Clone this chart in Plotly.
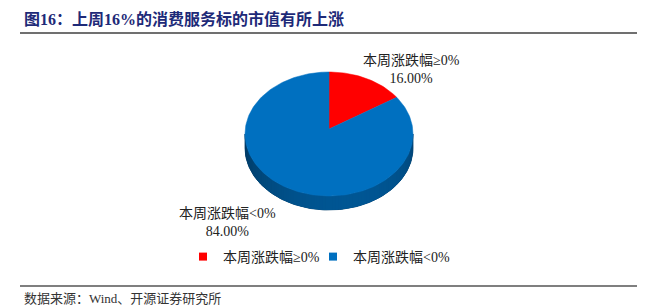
import math
import plotly.graph_objects as go

# ---- data ----
categories = ["本周涨跌幅≥0%", "本周涨跌幅&lt;0%"]
values = [16.0, 84.0]
colors = ["#FF0000", "#0070C0"]

title_text = "图16：上周16%的消费服务标的市值有所上涨"
source_text = "数据来源：Wind、开源证券研究所"

# ---- canvas / layout constants (pixels) ----
W, H = 654, 308
CX, CY = 329, 129          # projected centre of the pie
RX = 84                    # half width of the top face
R_TOP, R_BOTTOM = 57, 67   # far / near half heights (perspective)
DEPTH = 14                 # thickness of the disc
FONT = "Liberation Serif, Times New Roman, Noto Sans CJK SC, serif"
LEGEND_X = [183, 313]      # left edge of each legend entry
LEGEND_Y = 257

# perspective parameters derived from the constants above
K = (R_BOTTOM + R_TOP) / (R_BOTTOM - R_TOP)
SY = R_TOP * (K + 1)
SX = RX / (1 / math.sqrt(K * K - 1))


def project(a_deg, drop=0.0):
    """Clockwise angle from 12 o'clock on the disc -> pixel position."""
    a = math.radians(a_deg)
    X, Z = math.sin(a), math.cos(a)
    u = X / (K + Z)
    v = Z / (K + Z)
    return CX + SX * u, CY - SY * v + drop


def arc(a0, a1, drop=0.0, n=None):
    n = n or max(4, int(abs(a1 - a0) / 1.5))
    pts = [project(a0 + (a1 - a0) * i / n, drop) for i in range(n + 1)]
    return [p[0] for p in pts], [p[1] for p in pts]


def shade(hex_color, f):
    h = hex_color.lstrip("#")
    r, g, b = (int(h[i:i + 2], 16) for i in (0, 2, 4))
    return "rgb({},{},{})".format(int(r * f), int(g * f), int(b * f))


def side_factor(a):
    return 0.55 + 0.22 * math.cos(math.radians(a - 165))


total = sum(values)
bounds = []
acc = 0.0
for v in values:
    start = acc / total * 360
    acc += v
    bounds.append((start, acc / total * 360))


def slice_at(a):
    return next(j for j, (s, e) in enumerate(bounds) if s <= a <= e)


fig = go.Figure()

# ---- side wall (only the near half is visible) ----
tangent = math.degrees(math.acos(-1 / K))
vis0, vis1 = tangent, 360 - tangent

# solid backing so the shaded bands never leave gaps
tx, ty = arc(vis0, vis1)
bx, by = arc(vis1, vis0, drop=DEPTH)
base_c = shade(colors[slice_at(180)], 0.55)
fig.add_trace(go.Scatter(
    x=tx + bx + [tx[0]], y=ty + by + [ty[0]],
    mode="lines", fill="toself", fillcolor=base_c,
    line=dict(color=base_c, width=0.8),
    hoverinfo="skip", showlegend=False))

steps = 90
step = (vis1 - vis0) / steps
for i in range(steps):
    a0 = vis0 + step * i
    a1 = min(vis1, a0 + step * 1.8)   # overlap the next band
    mid = a0 + step / 2
    c = shade(colors[slice_at(mid)], side_factor(mid))
    tx, ty = arc(a0, a1, n=3)
    bx, by = arc(a1, a0, drop=DEPTH, n=3)
    fig.add_trace(go.Scatter(
        x=tx + bx + [tx[0]], y=ty + by + [ty[0]],
        mode="none", fill="toself", fillcolor=c,
        hoverinfo="skip", showlegend=False))

# ---- top face slices ----
for (s, e), col, name in zip(bounds, colors, categories):
    ax, ay = arc(s, e)
    fig.add_trace(go.Scatter(
        x=[CX] + ax + [CX], y=[CY] + ay + [CY],
        mode="lines", fill="toself", fillcolor=col,
        line=dict(color=col, width=0.5),
        name=name, hoverinfo="skip", showlegend=False))

# ---- legend entries (one legend box per entry) ----
legend_ids = ["legend", "legend2"]
for name, col, lid in zip(categories, colors, legend_ids):
    fig.add_trace(go.Scatter(
        x=[None], y=[None], mode="markers", name=name, legend=lid,
        marker=dict(symbol="square", size=8, color=col)))

legend_style = dict(orientation="h", xanchor="left",
                    y=1 - LEGEND_Y / H, yanchor="middle",
                    font=dict(family=FONT, size=14, color="#222222"),
                    itemwidth=30, bgcolor="rgba(0,0,0,0)")

# ---- data labels ----
label_pos = [(411, 69), (227, 222)]
for (lx, ly), name, v in zip(label_pos, categories, values):
    fig.add_annotation(
        x=lx, y=ly, xref="x", yref="y", showarrow=False,
        text="{}<br>{:.2f}%".format(name, v / total * 100),
        align="center", font=dict(family=FONT, size=14, color="#222222"))

# ---- title, rules, source ----
fig.add_annotation(
    x=22 / W, y=1 - 19 / H, xref="paper", yref="paper",
    xanchor="left", yanchor="middle", showarrow=False,
    text="<b>" + title_text + "</b>",
    font=dict(family=FONT, size=16, color="#1E2A78"))
fig.add_annotation(
    x=22 / W, y=1 - 298 / H, xref="paper", yref="paper",
    xanchor="left", yanchor="middle", showarrow=False,
    text=source_text,
    font=dict(family=FONT, size=13, color="#333333"))

for yy, col in [(33, "#404040"), (286, "#555555")]:
    fig.add_shape(type="line", xref="paper", yref="paper",
                  x0=20 / W, x1=637 / W, y0=1 - yy / H, y1=1 - yy / H,
                  line=dict(color=col, width=1.4))

fig.update_layout(
    width=W, height=H,
    margin=dict(l=0, r=0, t=0, b=0),
    paper_bgcolor="white", plot_bgcolor="white",
    xaxis=dict(range=[0, W], visible=False, fixedrange=True),
    yaxis=dict(range=[H, 0], visible=False, fixedrange=True),
    legend=dict(x=LEGEND_X[0] / W, **legend_style),
    legend2=dict(x=LEGEND_X[1] / W, **legend_style),
    showlegend=True,
)

fig.write_html("out.html")
